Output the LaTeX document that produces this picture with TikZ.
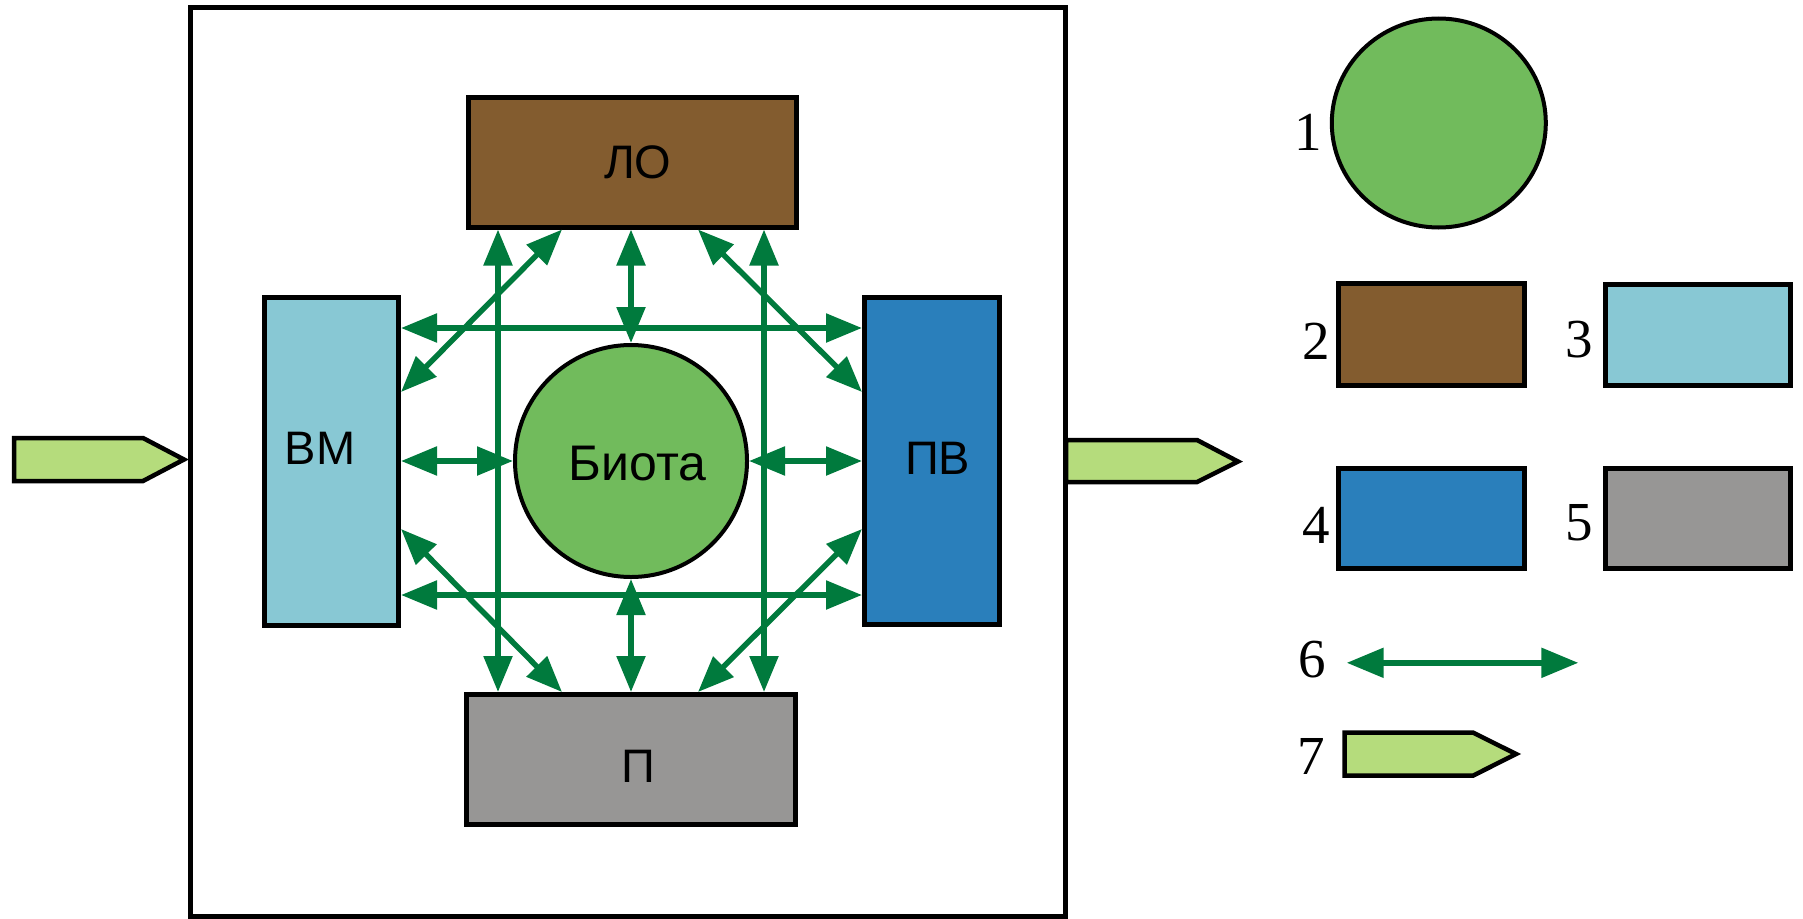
\documentclass[tikz,border=0pt]{standalone}
\usepackage{fontspec}
\setmainfont{Liberation Serif}
\newfontfamily\boxfont{Liberation Sans}
\usetikzlibrary{arrows.meta,shapes.geometric}

\definecolor{linkgreen}{HTML}{007A3D}
\definecolor{biotagreen}{HTML}{71BB5C}
\definecolor{flowgreen}{HTML}{B5DC7C}
\definecolor{soilbrown}{HTML}{835C2F}
\definecolor{airblue}{HTML}{88C8D4}
\definecolor{waterblue}{HTML}{2A7FBB}
\definecolor{rockgray}{HTML}{979695}

\begin{document}
\begin{tikzpicture}[x=1pt,y=-1pt,
  block/.style={draw=black, line width=5pt, rectangle, inner sep=0pt},
  biota/.style={draw=black, line width=4pt, circle, inner sep=0pt, fill=biotagreen},
  boxtext/.style={font=\boxfont\fontsize{47}{50}\selectfont, inner sep=0pt},
  numtext/.style={font=\fontsize{55}{58}\selectfont, inner sep=0pt},
  dbl/.style={draw=linkgreen, line width=5.5pt,
    {Triangle[length=36pt,width=28pt]}-{Triangle[length=36pt,width=28pt]}},
  flowarrow/.style={draw=black, line width=4.5pt, fill=flowgreen, line join=miter},
]
\useasboundingbox (0,0) rectangle (1803,918);

% system boundary
\node[draw=black, line width=4.5pt, rectangle, minimum width=875pt, minimum height=909pt, inner sep=0pt]
  (sys) at (628,461.75) {};

% compartments
\node[block, fill=soilbrown, minimum width=328pt, minimum height=130pt] (LO) at (632,162) {};
\node[block, fill=rockgray,  minimum width=329pt, minimum height=130pt] (P)  at (631,759.5) {};
\node[block, fill=airblue,   minimum width=134.5pt, minimum height=328.5pt] (VM) at (331.25,461.25) {};
\node[block, fill=waterblue, minimum width=135pt, minimum height=327.5pt] (PV) at (932,460.75) {};
\node[biota, minimum size=232pt] (BI) at (631,461) {};

% compartment names
\node[boxtext] (LOt) at (637.8,162.5) {ЛО};
\node[boxtext] (Pt)  at (638.4,766.7) {П};
\node[boxtext] (VMt) at (320,448) {ВМ};
\node[boxtext] (PVt) at (937.6,458.7) {ПВ};
\node[boxtext, font=\boxfont\fontsize{50}{54}\selectfont] (BIt) at (637.7,464) {Биота};

% guide columns and rows for the exchange arrows
\coordinate (colL)  at (498,461);
\coordinate (colLD) at (562,461);
\coordinate (colRD) at (698,461);
\coordinate (colR)  at (764,461);
\coordinate (rowT)  at (631,328);
\coordinate (rowTD) at (631,392);
\coordinate (rowBD) at (631,529);
\coordinate (rowB)  at (631,595);

% exchange arrows
\draw[dbl] (LO.south -| colL) -- (P.north -| colL);
\draw[dbl] (LO.south -| colR) -- (P.north -| colR);
\draw[dbl] (VM.east |- rowT) -- (PV.west |- rowT);
\draw[dbl] (VM.east |- rowB) -- (PV.west |- rowB);
\draw[dbl] (LO.south -| BI.north) -- (BI.north);
\draw[dbl] (BI.south) -- (P.north -| BI.south);
\draw[dbl] (VM.east |- BI.west) -- (BI.west);
\draw[dbl] (BI.east) -- (PV.west |- BI.east);
\draw[dbl] (LO.south -| colLD) -- (VM.east |- rowTD);
\draw[dbl] (LO.south -| colRD) -- (PV.west |- rowTD);
\draw[dbl] (VM.east |- rowBD) -- (P.north -| colLD);
\draw[dbl] (PV.west |- rowBD) -- (P.north -| colRD);

% inflow and outflow
\draw[flowarrow] (14,438) -- (143,438) -- (184,459.5) -- (143,481) -- (14,481) -- cycle;
\draw[flowarrow] (1066,440) -- (1197,440) -- (1238,461.5) -- (1197,482) -- (1066,482) -- cycle;

% legend
\node[draw=black, line width=4pt, ellipse, inner sep=0pt, fill=biotagreen,
      minimum width=214pt, minimum height=209pt] (k1) at (1438.8,123) {};
\node[block, fill=soilbrown, minimum width=185.7pt, minimum height=101.6pt] (k2) at (1431.3,334.3) {};
\node[block, fill=airblue,   minimum width=185.6pt, minimum height=100.6pt] (k3) at (1698,334.8) {};
\node[block, fill=waterblue, minimum width=185.7pt, minimum height=100.5pt] (k4) at (1431.3,518.3) {};
\node[block, fill=rockgray,  minimum width=185.3pt, minimum height=100.5pt] (k5) at (1697.9,518.3) {};
\coordinate (k6a) at (1346.7,662.8);
\coordinate (k6b) at (1578.3,662.8);
\draw[dbl, {Triangle[length=37pt,width=29pt]}-{Triangle[length=37pt,width=29pt]}] (k6a) -- (k6b);
\draw[flowarrow] (1344.7,732.7) -- (1473.3,732.7) -- (1516,754) -- (1473.3,775.5) -- (1344.7,775.5) -- cycle;

\node[numtext] (n1) at (1308,132.7) {1};
\node[numtext] (n2) at (1316,341.5) {2};
\node[numtext] (n3) at (1579,339.6) {3};
\node[numtext] (n4) at (1316,525) {4};
\node[numtext] (n5) at (1579,523) {5};
\node[numtext] (n6) at (1312,660) {6};
\node[numtext] (n7) at (1311,756.7) {7};
\end{tikzpicture}
\end{document}
